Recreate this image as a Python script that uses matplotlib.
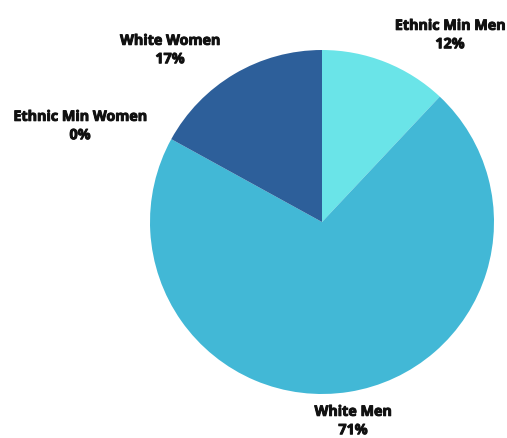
import matplotlib
matplotlib.use("Agg")
import matplotlib.pyplot as plt
import matplotlib.patheffects as pe

labels = ["Ethnic Min Men", "White Men", "Ethnic Min Women", "White Women"]
shares = [12, 71, 0, 17]
colors = ["#6ae4e8", "#42b8d6", "#2f8fc0", "#2d5f9a"]

# label anchor points, in pie-radius units
label_pos = [(0.744, 1.087), (0.180, -1.157), (-1.407, 0.558), (-0.884, 1.0)]

fig = plt.figure(figsize=(5.07, 4.38), dpi=100)
ax = fig.add_axes([0, 0, 1, 1])
ax.pie(shares, colors=colors, startangle=90, counterclock=False,
       radius=1.0, center=(0, 0), wedgeprops=dict(linewidth=0))
ax.set_xlim(-322 / 172, (507 - 322) / 172)
ax.set_ylim(-(438 - 222) / 172, 222 / 172)
ax.set_aspect("auto")
ax.axis("off")

for name, v, (x, y) in zip(labels, shares, label_pos):
    ax.text(x, y, f"{name}\n{v}%", ha="center", va="center",
            fontsize=10.3, fontweight="bold", family=["Open Sans", "DejaVu Sans"],
            linespacing=1.4, color="#111111",
            path_effects=[pe.withStroke(linewidth=0.7, foreground="#111111")])

fig.savefig("out.png", dpi=100)
